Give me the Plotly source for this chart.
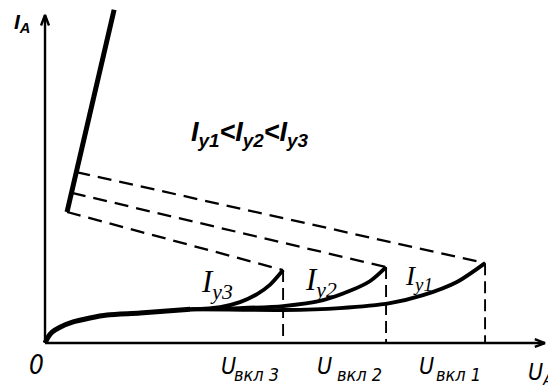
import plotly.graph_objects as go

# Thyristor anode characteristic I_A(U_A) for three gate currents.
# Units are arbitrary (U along x, I along y).

# Forward off-state branch shared by all gate currents
base_U = [0.0, 0.07, 0.16, 0.34, 0.64, 1.02, 1.41, 2.16, 3.30]
base_I = [0.0, 0.18, 0.33, 0.48, 0.64, 0.76, 0.85, 0.91, 1.02]

# Rising parts up to breakover, one per gate current
branch3_U = [3.30, 3.98, 4.43, 4.82, 5.11, 5.41]
branch3_I = [1.02, 1.09, 1.24, 1.48, 1.76, 2.21]
branch2_U = [3.30, 4.20, 5.41, 6.32, 6.93, 7.39, 7.75]
branch2_I = [1.02, 1.05, 1.12, 1.30, 1.58, 1.88, 2.30]
branch1_U = [3.30, 4.20, 5.41, 6.70, 7.84, 8.59, 9.36, 10.0]
branch1_I = [1.02, 1.01, 1.00, 1.06, 1.21, 1.45, 1.85, 2.42]

# Breakover points (Iy1, Iy2, Iy3)
U_bo = [10.0, 7.75, 5.41]
I_bo = [2.42, 2.30, 2.21]

# Holding points on the on-state line (Iy1, Iy2, Iy3)
U_hold = [0.71, 0.61, 0.50]
I_hold = [5.18, 4.55, 3.97]

# On-state line
on_U = [0.50, 1.57]
on_I = [3.97, 10.1]

# Axis extents
U_max = 11.36
I_max = 9.94

bo_subs = ["вкл 1", "вкл 2", "вкл 3"]
gate_labels = ["I<sub>y1</sub>", "I<sub>y2</sub>", "I<sub>y3</sub>"]

INK = "#000000"
fig = go.Figure()

# Axes with open arrowheads
ax_x = [0, 0, None, -0.09, 0, 0.09, None, 0, U_max, None,
        U_max - 0.23, U_max, U_max - 0.23]
ax_y = [0, I_max, None, I_max - 0.32, I_max, I_max - 0.32, None, 0, 0, None,
        0.12, 0, -0.12]
fig.add_trace(go.Scatter(x=ax_x, y=ax_y, mode="lines",
                         line=dict(color=INK, width=2.4), hoverinfo="skip"))

# Negative-resistance (unstable) segments and breakover drop lines
for i in range(3):
    fig.add_trace(go.Scatter(x=[U_hold[i], U_bo[i]], y=[I_hold[i], I_bo[i]],
                             mode="lines",
                             line=dict(color=INK, width=2.3, dash="14px,8px")))
    fig.add_trace(go.Scatter(x=[U_bo[i], U_bo[i]], y=[I_bo[i], 0],
                             mode="lines",
                             line=dict(color=INK, width=1.9, dash="12px,6px")))

# On-state line
fig.add_trace(go.Scatter(x=on_U, y=on_I, mode="lines",
                         line=dict(color=INK, width=5)))

# Off-state branches
for bu, bi in [(branch1_U, branch1_I), (branch2_U, branch2_I), (branch3_U, branch3_I)]:
    fig.add_trace(go.Scatter(x=bu, y=bi, mode="lines",
                             line=dict(color=INK, width=3.8, shape="spline", smoothing=0.8)))
fig.add_trace(go.Scatter(x=base_U, y=base_I, mode="lines",
                         line=dict(color=INK, width=5, shape="spline", smoothing=0.8)))

SANS = "Liberation Sans Narrow, DejaVu Sans Condensed, Liberation Sans, sans-serif"
SERIF = "Liberation Serif, DejaVu Serif, serif"
BOLD = "Liberation Sans, Arial, sans-serif"

ann = []
# Breakover voltage labels: "U" plus a large, low subscript
u_shift = [-68, -71, -64]
for u, sub, dx in zip(U_bo, bo_subs, u_shift):
    ann.append(dict(x=u, y=0, xanchor="left", yanchor="top", xshift=dx, yshift=-8,
                    text="U", font=dict(family=SANS, size=23, style="italic")))
    ann.append(dict(x=u, y=0, xanchor="right", yanchor="top", xshift=-2, yshift=-19,
                    text=sub, font=dict(family=SANS, size=18, style="italic")))
# Gate current labels next to their branches
gate_pos = [(8.14, 2.56, 27), (5.87, 2.53, 31), (3.50, 2.44, 31)]
for (x, y, s), txt in zip(gate_pos, gate_labels):
    ann.append(dict(x=x, y=y, xanchor="left", yanchor="top", text=txt,
                    font=dict(family=SERIF, size=s, style="italic")))

ann += [
    dict(x=-0.74, y=10.15, xanchor="left", yanchor="top",
         text="<b>I<sub>A</sub></b>",
         font=dict(family=BOLD, size=21, style="italic")),
    dict(x=3.28, y=6.9, xanchor="left", yanchor="top",
         text="<b>I<sub>y1</sub>&lt;I<sub>y2</sub>&lt;I<sub>y3</sub></b>",
         font=dict(family=BOLD, size=27, style="italic")),
    dict(x=-0.2, y=0, xanchor="center", yanchor="top", yshift=-5, text="0",
         font=dict(family=SANS, size=26, style="italic")),
    dict(x=U_max, y=0, xanchor="left", yanchor="top", xshift=-19, yshift=-14,
         text="U<sub>A</sub>",
         font=dict(family=SANS, size=23, style="italic")),
]
for a in ann:
    a["showarrow"] = False
    a["font"]["color"] = INK

fig.update_layout(
    width=548, height=387,
    margin=dict(l=0, r=0, t=0, b=0),
    paper_bgcolor="white", plot_bgcolor="white",
    showlegend=False,
    xaxis=dict(range=[-1.023, 11.43], visible=False, fixedrange=True),
    yaxis=dict(range=[-1.333, 10.394], visible=False, fixedrange=True),
    annotations=ann,
)

fig.write_html("out.html")
